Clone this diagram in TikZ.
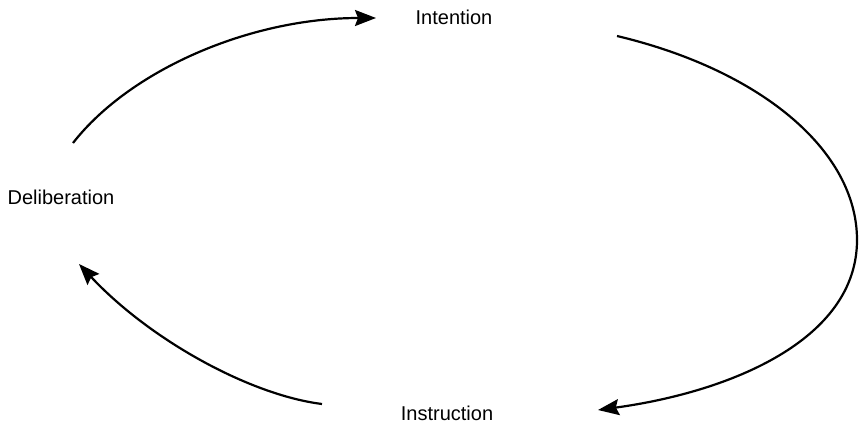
\documentclass[tikz,border=0pt]{standalone}
\usepackage{fontspec}
\setmainfont{Liberation Sans}
\usetikzlibrary{arrows.meta}
\begin{document}
\begin{tikzpicture}[x=1pt,y=-1pt,
  lbl/.style={font=\fontsize{20}{24}\selectfont, inner sep=0pt},
  arc/.style={line width=2.2pt, -{Stealth[length=21pt,width=16pt,inset=3pt]}}]
\useasboundingbox (0,0) rectangle (859,426);
\node[lbl] (int) at (454,17) {Intention};
\node[lbl] (del) at (61,197) {Deliberation};
\node[lbl] (ins) at (447,413) {Instruction};
\coordinate (a1) at (73,143);
\coordinate (a2) at (376,18);
\coordinate (b1) at (617,36);
\coordinate (b2) at (857,240);
\coordinate (b3) at (598,410);
\coordinate (c1) at (322,404);
\coordinate (c2) at (79,264);
\draw[arc] (a1) .. controls (130,70) and (250,18) .. (a2);
\draw[line width=2.2pt] (b1) .. controls (760,70) and (857,150) .. (b2);
\draw[arc] (b2) .. controls (857,340) and (730,392) .. (b3);
\draw[arc] (c1) .. controls (250,395) and (150,340) .. (c2);
\end{tikzpicture}
\end{document}
